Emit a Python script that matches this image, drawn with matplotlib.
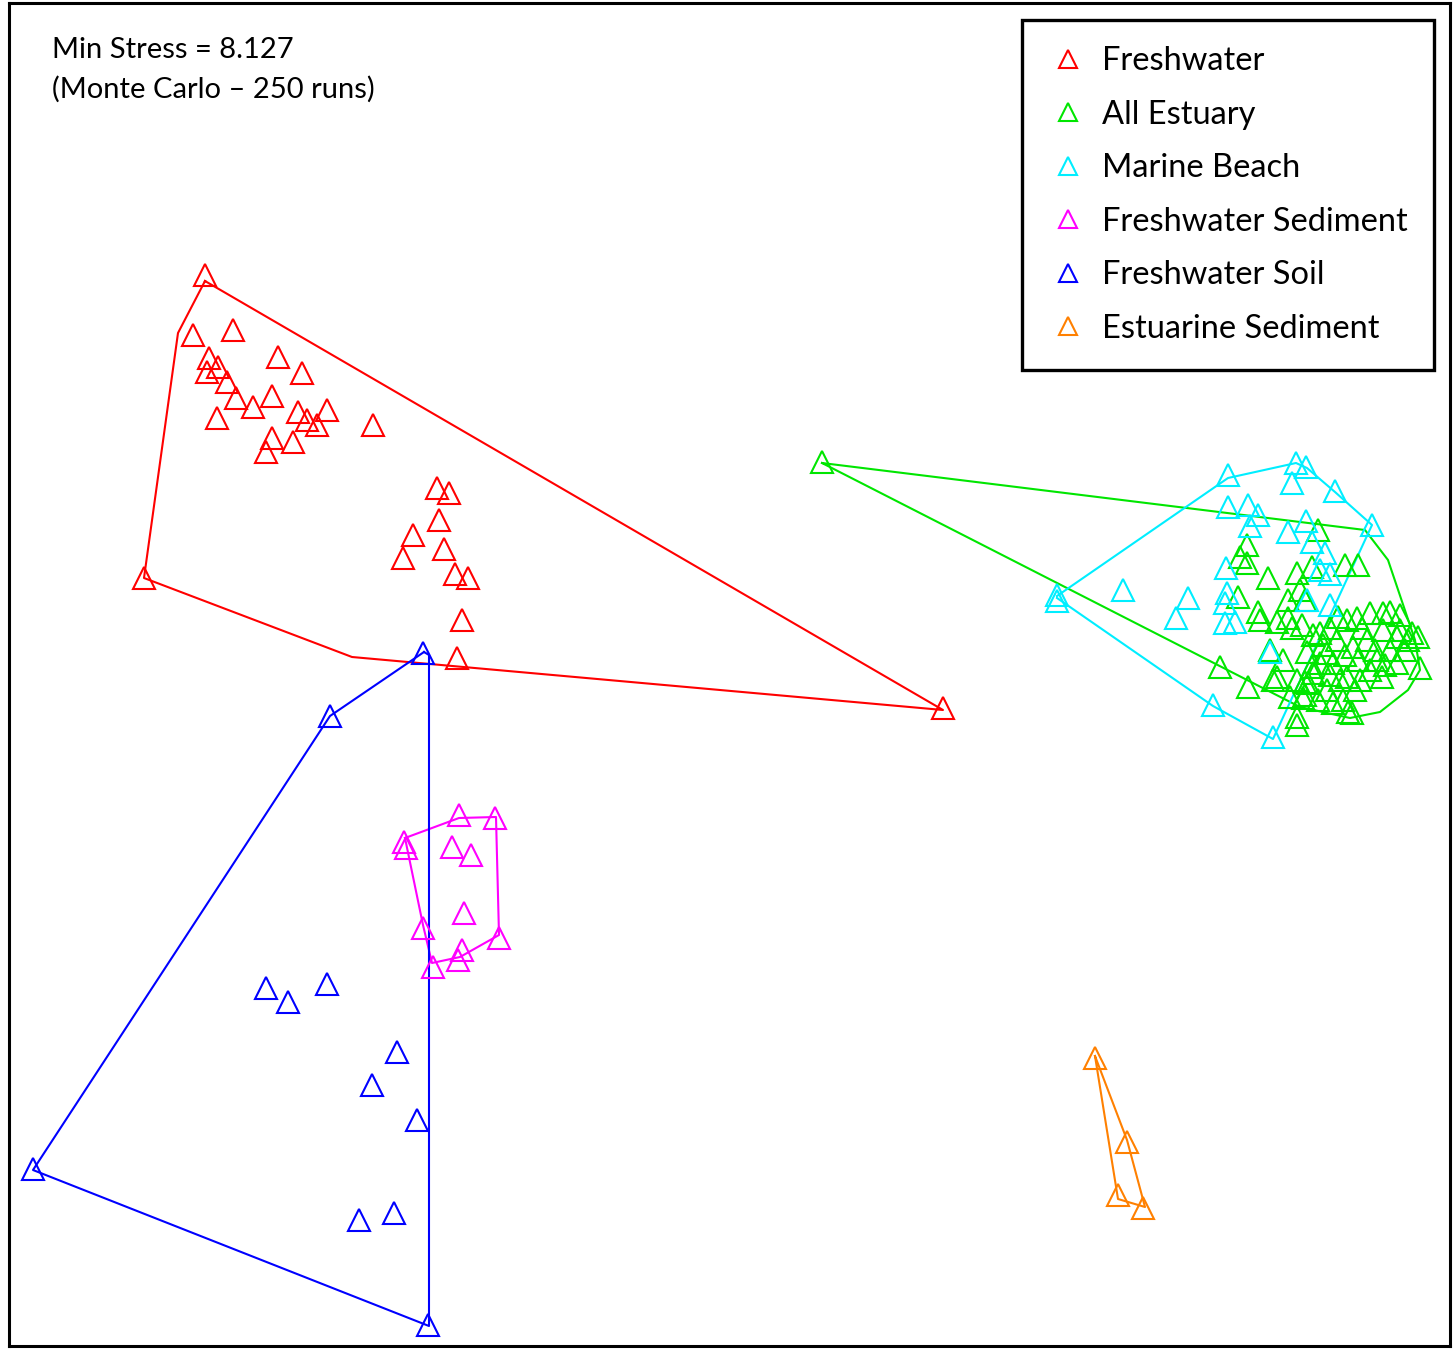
import matplotlib.pyplot as plt
from matplotlib.lines import Line2D

# NMDS ordination scores (plot units) for each sample group
fw_x = [205, 193, 233, 209, 207, 218, 227, 278, 302, 236, 253, 272, 298, 307, 317, 327,
        217, 272, 293, 266, 373, 437, 449, 439, 413, 444, 403, 455, 468, 462, 457, 144, 943]
fw_y = [275, 335, 330, 358, 372, 367, 382, 357, 373, 398, 407, 396, 412, 420, 425, 410,
        418, 438, 442, 452, 425, 488, 493, 520, 535, 549, 558, 574, 578, 620, 658, 578, 708]
fw_hull_x = [205, 178, 144, 352, 943, 205]
fw_hull_y = [281, 333, 578, 657, 710, 281]

est_x = [822, 1220, 1248, 1318, 1247, 1240, 1247, 1268, 1297, 1312, 1345, 1358,
         1238, 1258, 1288, 1300, 1305, 1260, 1277, 1288, 1292, 1302, 1313,
         1270, 1283, 1273, 1290, 1305, 1303, 1297, 1297, 1312, 1277, 1297, 1305,
         1338, 1347, 1357, 1370, 1383, 1390, 1400, 1412, 1418, 1420, 1397,
         1330, 1320, 1307, 1333, 1358, 1370, 1382, 1347, 1327, 1343, 1352, 1308,
         1337, 1353, 1367, 1383, 1397, 1377, 1320, 1327, 1313, 1340, 1360, 1333,
         1348, 1323, 1345, 1390, 1405, 1375, 1362, 1330, 1355, 1318, 1385, 1400, 1408]
est_y = [462, 667, 687, 530, 545, 557, 563, 578, 573, 567, 565, 565,
         597, 612, 600, 590, 600, 620, 622, 618, 628, 625, 635,
         650, 660, 680, 697, 682, 698, 717, 725, 667, 677, 680, 695,
         617, 620, 618, 613, 613, 612, 615, 633, 637, 668, 663,
         628, 633, 652, 663, 660, 670, 677, 677, 690, 700, 713, 683,
         640, 647, 640, 630, 637, 660, 663, 653, 673, 680, 680, 703,
         712, 645, 655, 650, 650, 650, 628, 675, 690, 700, 665, 630, 640]
est_hull_x = [822, 1365, 1388, 1415, 1420, 1408, 1380, 1350, 1300, 822]
est_hull_y = [463, 530, 560, 640, 670, 690, 712, 718, 707, 463]

mb_x = [1057, 1057, 1123, 1188, 1176, 1213, 1273, 1228, 1296, 1306, 1292, 1335, 1372,
        1228, 1248, 1258, 1250, 1288, 1306, 1312, 1325, 1320, 1330,
        1226, 1227, 1225, 1225, 1235, 1307, 1330, 1270]
mb_y = [595, 601, 590, 598, 618, 705, 737, 475, 463, 467, 483, 491, 525,
        507, 505, 515, 526, 532, 521, 542, 553, 570, 574,
        568, 593, 603, 623, 622, 600, 605, 652]
mb_hull_x = [1057, 1228, 1296, 1307, 1335, 1372, 1273, 1213, 1057]
mb_hull_y = [596, 478, 463, 468, 492, 525, 739, 706, 598]

fws_x = [459, 495, 404, 406, 452, 471, 464, 423, 499, 462, 458, 433]
fws_y = [815, 818, 842, 848, 847, 855, 913, 928, 938, 950, 960, 967]
fws_hull_x = [405, 459, 496, 499, 460, 432, 423, 405]
fws_hull_y = [838, 818, 817, 935, 957, 963, 925, 838]

soil_x = [423, 330, 33, 428, 266, 288, 327, 397, 372, 417, 359, 394]
soil_y = [653, 716, 1169, 1325, 988, 1002, 984, 1052, 1085, 1120, 1220, 1213]
soil_hull_x = [424, 330, 33, 429, 429, 424]
soil_hull_y = [652, 716, 1170, 1326, 655, 652]

esed_x = [1095, 1127, 1118, 1143]
esed_y = [1058, 1142, 1195, 1208]
esed_hull_x = [1095, 1127, 1145, 1118, 1095]
esed_hull_y = [1056, 1140, 1207, 1199, 1056]

labels = ['Freshwater', 'All Estuary', 'Marine Beach', 'Freshwater Sediment',
          'Freshwater Soil', 'Estuarine Sediment']
colors = ['#FF0000', '#00E600', '#00EEFF', '#FF00FF', '#0000FF', '#FF8000']

groups = [(fw_x, fw_y, fw_hull_x, fw_hull_y),
          (est_x, est_y, est_hull_x, est_hull_y),
          (mb_x, mb_y, mb_hull_x, mb_hull_y),
          (fws_x, fws_y, fws_hull_x, fws_hull_y),
          (soil_x, soil_y, soil_hull_x, soil_hull_y),
          (esed_x, esed_y, esed_hull_x, esed_hull_y)]

W, H = 1454, 1349
fig = plt.figure(figsize=(W/100, H/100), dpi=100)
ax = fig.add_axes([9/W, 3/H, 1441/W, 1343/H])
ax.set_xlim(9, 1450)
ax.set_ylim(1346, 3)

for (x, y, hx, hy), c in zip(groups, colors):
    ax.plot(hx, hy, '-', color=c, lw=1.5, zorder=2)
    ax.plot(x, y, '^', ms=16, mfc='none', mec=c, mew=1.5, ls='none', zorder=3)

ax.set_xticks([])
ax.set_yticks([])
for s in ax.spines.values():
    s.set_linewidth(2.2)

ax.text(52, 50, 'Min Stress = 8.127', fontsize=21, family='Lato', va='center', ha='left')
ax.text(52, 89, '(Monte Carlo \u2013 250 runs)', fontsize=21, family='Lato',
        va='center', ha='left')

handles = [Line2D([], [], marker='^', ms=13, mfc='none', mec=c, mew=1.5, ls='none')
           for c in colors]
leg = ax.legend(handles, labels, loc='upper right', bbox_to_anchor=(0.9889, 0.9873),
                prop={'family': 'Lato', 'size': 23.5}, frameon=True, fancybox=False,
                edgecolor='black', framealpha=1, labelspacing=0.72, handletextpad=0.45,
                borderpad=0.8, borderaxespad=0, handlelength=1.2)
leg.get_frame().set_linewidth(2.4)

fig.savefig('out.png', dpi=100)
